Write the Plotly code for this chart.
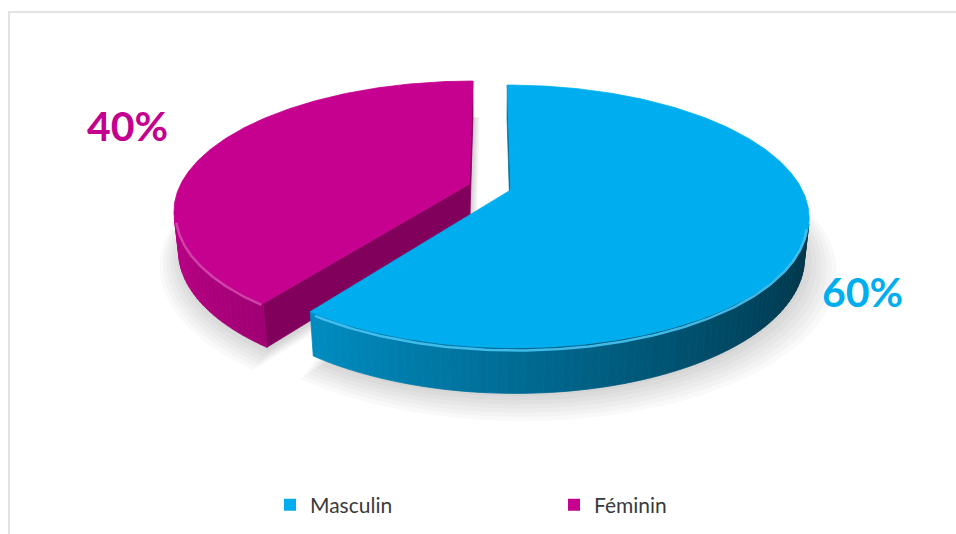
import numpy as np
import plotly.graph_objects as go

# ---- data ----
labels = ["Masculin", "Féminin"]
values = [60, 40]
top_colors = ["#00AEEF", "#C6008F"]
label_colors = ["#00AEEF", "#C4008F"]
label_pos = [(862, 291), (127, 125)]   # pixel positions of the percentage labels

# ---- canvas / 3D pie geometry ----
W, H = 956, 534
CX, CY, S = 490.0, 187.0, 290.0
TILT = np.radians(25.5)
DIST = 4.5
DEPTH = 0.15
EXPLODE = 0.075


def project(x, y, z):
    x = np.asarray(x, float)
    y = np.asarray(y, float)
    z = np.asarray(z, float)
    yc = y * np.cos(TILT) - z * np.sin(TILT)
    dc = y * np.sin(TILT) + z * np.cos(TILT)
    f = DIST / (DIST - dc)
    return CX + S * x * f, CY - S * yc * f


def hex_rgb(h):
    h = h.lstrip("#")
    return tuple(int(h[i:i + 2], 16) for i in (0, 2, 4))


def shade(rgb, k, a=1.0):
    r, g, b = (int(max(0, min(255, c * k))) for c in rgb)
    return f"rgba({r},{g},{b},{a})"


def lighten(rgb, t):
    r, g, b = (int(c + (255 - c) * t) for c in rgb)
    return f"rgb({r},{g},{b})"


CAM = np.array([0.0, DIST * np.sin(TILT), DIST * np.cos(TILT)])


def facing(normal, point):
    return float(np.dot(normal, CAM - np.asarray(point))) > 0


fig = go.Figure()


def poly(xs, ys, fill, line=None, lw=0.8):
    fig.add_trace(go.Scatter(
        x=list(xs) + [xs[0]], y=list(ys) + [ys[0]], mode="lines", fill="toself",
        fillcolor=fill, line=dict(color=line or fill, width=lw),
        hoverinfo="skip", showlegend=False))


total = float(sum(values))
bounds = np.concatenate([[0], np.cumsum(values) / total * 360.0])
slices = []
for i, v in enumerate(values):
    a0, a1 = np.radians(bounds[i]), np.radians(bounds[i + 1])
    am = 0.5 * (a0 + a1)
    ox, oz = EXPLODE * np.sin(am), -EXPLODE * np.cos(am)
    slices.append(dict(i=i, a0=a0, a1=a1, ox=ox, oz=oz))

# soft ground shadow
for k in range(7):
    for s in slices:
        ph = np.linspace(s["a0"], s["a1"], 120)
        sc = 1.0 + 0.014 * k
        xs = np.concatenate([[s["ox"]], s["ox"] + sc * np.sin(ph)])
        zs = np.concatenate([[s["oz"]], s["oz"] - sc * np.cos(ph)])
        px, py = project(xs, np.full_like(xs, -DEPTH), zs)
        poly(px + 2 + k * 0.8, py + 3 + k * 1.2, "rgba(0,0,0,0.022)", lw=0)

# far slices first
for s in sorted(slices, key=lambda d: d["oz"]):
    rgb = hex_rgb(top_colors[s["i"]])
    ox, oz = s["ox"], s["oz"]

    # flat cut faces
    for ang, sign in ((s["a0"], -1), (s["a1"], 1)):
        n = np.array([np.sin(ang + sign * np.pi / 2), 0, -np.cos(ang + sign * np.pi / 2)])
        rim = np.array([ox + np.sin(ang), 0, oz - np.cos(ang)])
        if facing(n, (rim + np.array([ox, 0, oz])) / 2):
            xs = [ox, ox + np.sin(ang), ox + np.sin(ang), ox]
            ys = [0, 0, -DEPTH, -DEPTH]
            zs = [oz, oz - np.cos(ang), oz - np.cos(ang), oz]
            px, py = project(xs, ys, zs)
            poly(px, py, shade(rgb, 0.65))

    # curved outer wall, split into shaded strips
    step = np.radians(1.5)
    n_strip = max(1, int(np.ceil((s["a1"] - s["a0"]) / step)))
    edges = np.linspace(s["a0"], s["a1"], n_strip + 1)
    vis = []
    for j in range(n_strip):
        p0, p1 = edges[j], edges[j + 1]
        pm = 0.5 * (p0 + p1)
        n = np.array([np.sin(pm), 0, -np.cos(pm)])
        pt = np.array([ox + np.sin(pm), -DEPTH / 2, oz - np.cos(pm)])
        if not facing(n, pt):
            continue
        vis.append(pm)
        xs = [ox + np.sin(p0), ox + np.sin(p1), ox + np.sin(p1), ox + np.sin(p0)]
        zs = [oz - np.cos(p0), oz - np.cos(p1), oz - np.cos(p1), oz - np.cos(p0)]
        ys = [0, 0, -DEPTH, -DEPTH]
        px, py = project(xs, ys, zs)
        k = 0.62 - 0.32 * np.sin(pm)
        poly(px, py, shade(rgb, k))

    # top face
    ph = np.linspace(s["a0"], s["a1"], 240)
    xs = np.concatenate([[ox], ox + np.sin(ph)])
    zs = np.concatenate([[oz], oz - np.cos(ph)])
    px, py = project(xs, np.zeros_like(xs), zs)
    poly(px, py, top_colors[s["i"]])

    # bevel highlight along the front rim
    if vis:
        ph = np.linspace(min(vis), max(vis), 120)
        px, py = project(ox + 0.995 * np.sin(ph), np.full_like(ph, -0.012), oz - 0.995 * np.cos(ph))
        fig.add_trace(go.Scatter(x=px, y=py, mode="lines",
                                 line=dict(color=lighten(rgb, 0.28), width=2.5),
                                 opacity=0.9, hoverinfo="skip", showlegend=False))

# percentage labels
for i, v in enumerate(values):
    fig.add_annotation(x=label_pos[i][0], y=label_pos[i][1], text=f"{round(v / total * 100)}%",
                       showarrow=False, xanchor="center", yanchor="middle",
                       font=dict(family="Lato", size=41, color=label_colors[i], weight="bold"))

# legend entries
for i, name in enumerate(labels):
    fig.add_trace(go.Scatter(x=[None], y=[None], mode="markers", name=name,
                             marker=dict(symbol="square", size=12, color=top_colors[i])))

fig.add_shape(type="rect", x0=9, y0=12, x1=W + 10, y1=H + 10,
              line=dict(color="#D9D9D9", width=1.5), layer="below")

fig.update_layout(
    width=W, height=H, margin=dict(l=0, r=0, t=0, b=0),
    paper_bgcolor="white", plot_bgcolor="white",
    xaxis=dict(range=[0, W], visible=False, fixedrange=True),
    yaxis=dict(range=[H, 0], visible=False, fixedrange=True),
    legend=dict(orientation="h", x=270 / W, xanchor="left", y=1 - 505 / H, yanchor="middle",
                font=dict(family="Lato", size=21, color="#3A3A3A"),
                entrywidth=239, entrywidthmode="pixels", itemwidth=30,
                bgcolor="rgba(0,0,0,0)"),
)

fig.write_html("out.html")
